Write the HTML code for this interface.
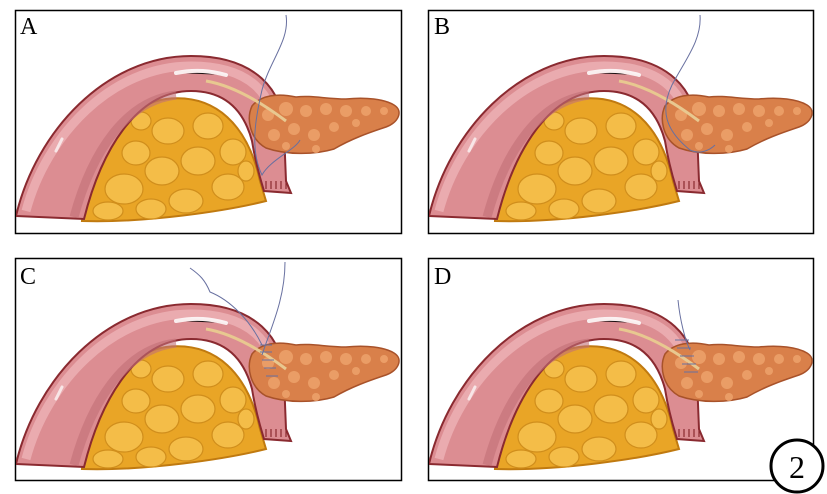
<!DOCTYPE html>
<html><head><meta charset="utf-8"><style>
html,body{margin:0;padding:0;background:#fff;}
svg{display:block;}
text{font-family:"Liberation Serif",serif;}
</style></head><body>
<svg width="827" height="494" viewBox="0 0 827 494" xmlns="http://www.w3.org/2000/svg">
<defs>
<symbol id="p" viewBox="0 0 386 223" width="386" height="223">
  <!-- fat -->
  <path d="M66,210 C70,160 100,95 150,88 C200,82 232,115 244,170 L250,190 C210,200 130,212 66,210 Z" fill="#e9a526" stroke="#c07a10" stroke-width="2"/>
  <g fill="#f4bd48" stroke="#d08e1c" stroke-width="1.2">
    <ellipse cx="108" cy="178" rx="19" ry="15"/><ellipse cx="146" cy="160" rx="17" ry="14"/>
    <ellipse cx="182" cy="150" rx="17" ry="14"/><ellipse cx="152" cy="120" rx="16" ry="13"/>
    <ellipse cx="192" cy="115" rx="15" ry="13"/><ellipse cx="120" cy="142" rx="14" ry="12"/>
    <ellipse cx="212" cy="176" rx="16" ry="13"/><ellipse cx="170" cy="190" rx="17" ry="12"/>
    <ellipse cx="217" cy="141" rx="13" ry="13"/><ellipse cx="92" cy="200" rx="15" ry="9"/>
    <ellipse cx="135" cy="198" rx="15" ry="10"/><ellipse cx="125" cy="110" rx="10" ry="9"/>
    <ellipse cx="230" cy="160" rx="8" ry="10"/>
  </g>
  <!-- intestine -->
  <path d="M0,205 C20,120 90,45 175,45 C240,45 268,80 268,120 L270,170 L275,182 L248,180 C245,170 240,155 236,130 C228,100 210,80 175,80 C120,80 85,140 68,208 Z" fill="#dc8d92" stroke="#8a2a30" stroke-width="2"/>
  <path d="M10,200 C30,125 95,55 175,55 C235,55 258,85 258,118" fill="none" stroke="#eeb3b6" stroke-width="9" opacity=".8"/>
  <path d="M58,206 C76,140 110,90 160,84" fill="none" stroke="#c26f76" stroke-width="9" opacity=".6"/>
  <path d="M160,62 C180,58 195,60 210,64" stroke="#fff" stroke-width="4" stroke-linecap="round" opacity=".85"/>
  <path d="M40,140 L46,128" stroke="#fff" stroke-width="3" stroke-linecap="round" opacity=".7"/>
  <g stroke="#8a2a30" stroke-width="1.2"><path d="M250,170 v8 M255,170 v8 M260,170 v8 M265,170 v8 M270,170 v8"/></g>
  <!-- pancreas -->
  <path d="M236,95 C245,84 262,82 280,86 C295,84 310,88 330,88 C350,86 368,88 378,94 C388,100 382,112 370,116 C352,122 335,128 318,138 C298,144 270,144 250,137 C234,128 230,108 236,95 Z" fill="#d9804a" stroke="#a8522a" stroke-width="1.5"/>
  <g fill="#eea36c" opacity=".85">
    <circle cx="252" cy="104" r="6"/><circle cx="270" cy="98" r="7"/><circle cx="290" cy="100" r="6"/>
    <circle cx="310" cy="98" r="6"/><circle cx="330" cy="100" r="6"/><circle cx="350" cy="100" r="5"/><circle cx="368" cy="100" r="4"/>
    <circle cx="258" cy="124" r="6"/><circle cx="278" cy="118" r="6"/><circle cx="298" cy="124" r="6"/><circle cx="318" cy="116" r="5"/><circle cx="340" cy="112" r="4"/>
    <circle cx="270" cy="135" r="4"/><circle cx="300" cy="138" r="4"/>
  </g>
  <path d="M190,70 C220,75 250,95 270,110" fill="none" stroke="#e8c890" stroke-width="3"/>
</symbol>
</defs>
<g fill="none" stroke="#000" stroke-width="1.5">
  <rect x="15.5" y="10.5" width="386" height="223"/>
  <rect x="428.5" y="10.5" width="385" height="223"/>
  <rect x="15.5" y="258.5" width="386" height="222"/>
  <rect x="428.5" y="258.5" width="385" height="222"/>
</g>
<use href="#p" x="16" y="11"/>
<use href="#p" x="429" y="11"/>
<use href="#p" x="16" y="259"/>
<use href="#p" x="429" y="259"/>
<g fill="none" stroke="#6870a0" stroke-width="1">
  <path d="M286,15 C290,40 270,60 262,90 C255,120 250,150 262,175 C270,160 295,150 300,140"/>
  <path d="M700,15 C702,40 685,60 672,85 C660,110 665,130 690,150 C700,155 710,150 715,145"/>
  <path d="M190,268 C200,275 205,280 210,292 C230,300 250,320 262,345 M285,262 C285,300 270,330 262,355"/>
  <path d="M260,345 l12,0 M260,352 l12,0 M262,360 l12,0 M264,368 l12,0 M266,376 l12,0"/>
  <path d="M678,300 C680,320 685,340 690,350 M675,340 l14,0 M677,348 l14,0 M680,356 l14,0 M682,364 l14,0 M684,372 l14,0"/>
</g>
<g font-size="24" fill="#000">
  <text x="20" y="34">A</text><text x="434" y="34">B</text>
  <text x="20" y="284">C</text><text x="434" y="284">D</text>
</g>
<circle cx="797" cy="466" r="26" fill="#fff" stroke="#000" stroke-width="3"/>
<text x="797" y="478" font-size="32" text-anchor="middle" font-family="Liberation Sans,sans-serif">2</text>
</svg>
</body></html>
